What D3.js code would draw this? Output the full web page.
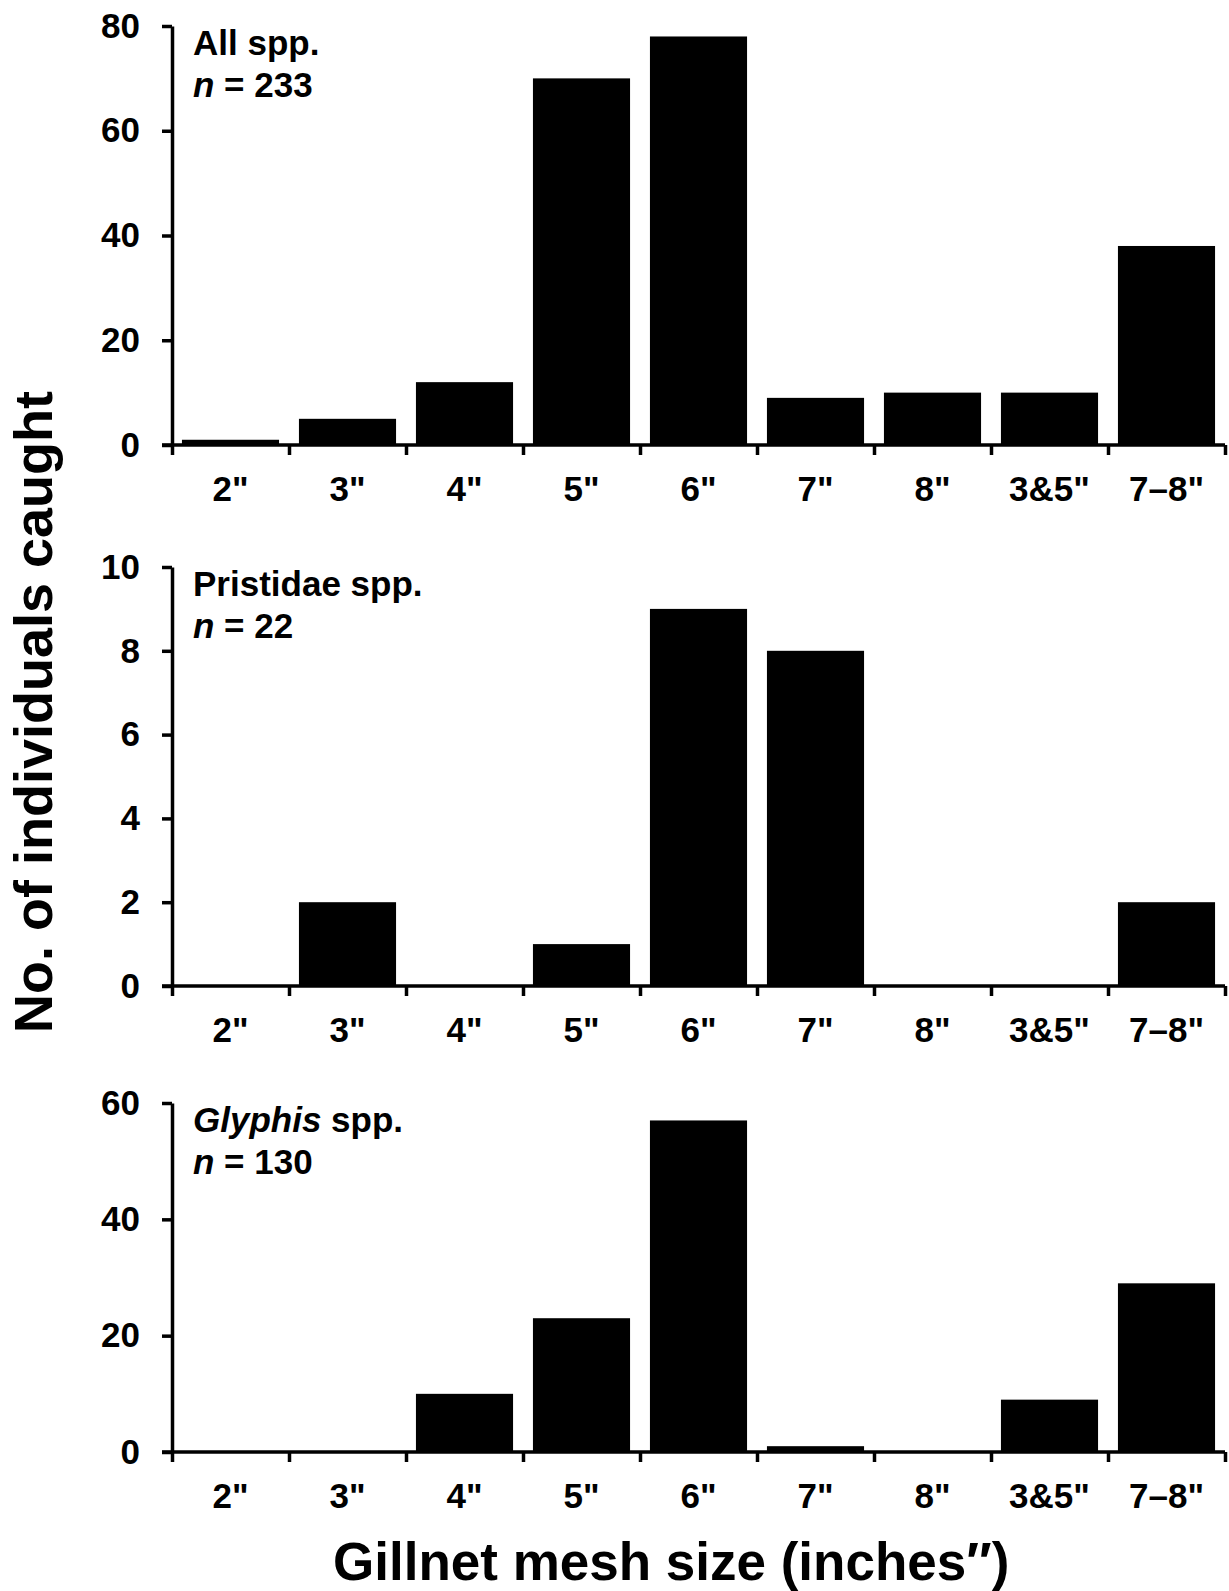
<!DOCTYPE html>
<html>
<head>
<meta charset="utf-8">
<script src="https://cdn.jsdelivr.net/npm/d3@7"></script>
<style>
  body { margin: 0; background: #fff; }
  svg text { font-family: "Liberation Sans", Arial, sans-serif; font-weight: bold; fill: #000; }
</style>
</head>
<body>
<svg id="chart" width="1229" height="1591"></svg>
<script>
// mesh sizes along the x axis
const categories = ['2"', '3"', '4"', '5"', '6"', '7"', '8"', '3&5"', '7\u20138"']

// counts per mesh size
const allSpp = [1, 5, 12, 70, 78, 9, 10, 10, 38]
const pristidae = [0, 2, 0, 1, 9, 8, 0, 0, 2]
const glyphis = [0, 0, 10, 23, 57, 1, 0, 9, 29]

// y tick values for each panel
const allTicks = [0, 20, 40, 60, 80]
const pristTicks = [0, 2, 4, 6, 8, 10]
const glyphTicks = [0, 20, 40, 60]

const svg = d3.select('#chart')
const left = 172, right = 1225

const x = d3.scaleBand()
  .domain(categories)
  .range([left, right])
  .paddingInner(0.17)
  .paddingOuter(0.085)

// boundaries between categories, for the tick marks
const bounds = d3.scaleLinear().domain([0, categories.length]).range([left, right])

const panels = [
  { values: allSpp, ticks: allTicks, top: 26, bottom: 445, name: 'All spp.', italic: false, n: 233 },
  { values: pristidae, ticks: pristTicks, top: 567, bottom: 986, name: 'Pristidae spp.', italic: false, n: 22 },
  { values: glyphis, ticks: glyphTicks, top: 1103, bottom: 1452, name: 'Glyphis', italic: true, n: 130 }
]

panels.forEach(p => {
  const y = d3.scaleLinear()
    .domain([0, d3.max(p.ticks)])
    .range([p.bottom, p.top])

  const g = svg.append('g')

  g.selectAll('rect')
    .data(p.values)
    .enter()
    .append('rect')
    .attr('x', (d, i) => x(categories[i]))
    .attr('width', x.bandwidth())
    .attr('y', d => y(d))
    .attr('height', d => y(0) - y(d))
    .attr('fill', '#000')

  // y axis
  const ya = g.append('g')
    .attr('transform', `translate(${left},0)`)
    .call(d3.axisLeft(y).tickValues(p.ticks).tickSize(10).tickSizeOuter(0).tickPadding(22))
  ya.select('.domain').attr('stroke-width', 3.5)
  ya.selectAll('.tick line').attr('stroke-width', 3.5)
  ya.selectAll('.tick text').style('font-size', '35px')

  // x axis: ticks at the category boundaries
  const xa = g.append('g')
    .attr('transform', `translate(0,${p.bottom})`)
    .call(d3.axisBottom(bounds).ticks(categories.length).tickSize(10).tickSizeOuter(0).tickFormat(''))
  xa.select('.domain').attr('stroke-width', 3.5).attr('d', `M${left - 10},0H${right}`)
  xa.selectAll('.tick line').attr('stroke-width', 3.5)

  g.selectAll('.xlab')
    .data(categories)
    .enter()
    .append('text')
    .attr('class', 'xlab')
    .attr('x', d => x(d) + x.bandwidth() / 2)
    .attr('y', p.bottom + 56)
    .attr('text-anchor', 'middle')
    .style('font-size', '35px')
    .text(d => d)

  // panel label
  const t1 = g.append('text')
    .attr('x', 193)
    .attr('y', p.top + 29)
    .style('font-size', '35px')
  if (p.italic) {
    t1.append('tspan').style('font-style', 'italic').text(p.name)
    t1.append('tspan').text(' spp.')
  } else {
    t1.text(p.name)
  }
  const t2 = g.append('text')
    .attr('x', 193)
    .attr('y', p.top + 71)
    .style('font-size', '35px')
  t2.append('tspan').style('font-style', 'italic').text('n')
  t2.append('tspan').text(' = ' + p.n)
})

// axis titles
svg.append('text')
  .attr('transform', 'translate(52,712) rotate(-90)')
  .attr('text-anchor', 'middle')
  .style('font-size', '54px')
  .text('No. of individuals caught')

svg.append('text')
  .attr('x', 333)
  .attr('y', 1580)
  .style('font-size', '53px')
  .text('Gillnet mesh size (inches\u2033)')
</script>
</body>
</html>
